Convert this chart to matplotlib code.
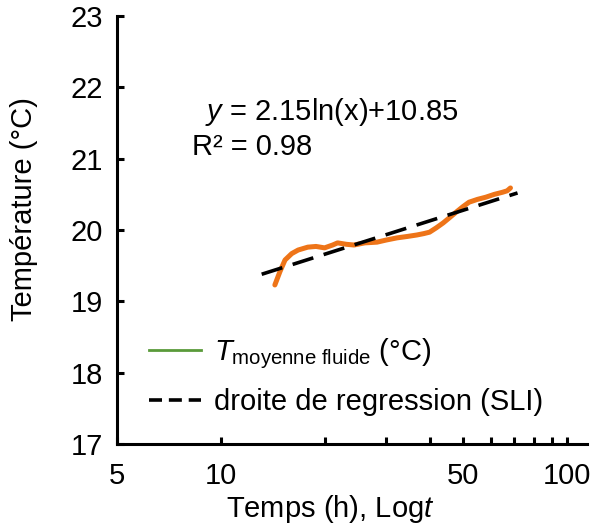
import numpy as np
import matplotlib
matplotlib.use("Agg")
import matplotlib.pyplot as plt
from matplotlib.lines import Line2D

plt.rcParams['font.family'] = 'Liberation Sans'
plt.rcParams['mathtext.fontset'] = 'custom'
plt.rcParams['mathtext.rm'] = 'Liberation Sans'
plt.rcParams['mathtext.it'] = 'Liberation Sans:italic'

# --- data ---
time_h = [14.3, 14.8, 15.3, 16.0, 16.7, 17.8, 18.8, 19.9, 21.0, 21.7, 23.0, 24.2,
          26.0, 28.2, 30.0, 32.2, 34.5, 36.7, 38.5, 40.0, 41.8, 43.8, 45.6,
          47.7, 50.0, 52.0, 55.0, 58.1, 61.5, 65.0, 67.0, 68.5]
temp_c = [19.23, 19.42, 19.58, 19.67, 19.72, 19.76, 19.77, 19.75, 19.79, 19.82,
          19.80, 19.79, 19.82, 19.83, 19.86, 19.89, 19.91, 19.93, 19.95, 19.97,
          20.03, 20.10, 20.17, 20.25, 20.33, 20.39, 20.43, 20.46, 20.50, 20.53,
          20.55, 20.59]

fit_t = [13.1, 71.8]
fit_T = [19.38, 20.52]

x_major = [5, 10, 50, 100]
x_minor = [20, 30, 40, 60, 70, 80, 90]
y_ticks = [17, 18, 19, 20, 21, 22, 23]

fs = 21

fig = plt.figure(figsize=(5.93, 5.27), dpi=100)
ax = fig.add_axes([0.197, 0.1575, 0.793, 0.812])

ax.plot(time_h, temp_c, color='#ee7418', lw=3.6, solid_capstyle='round',
        solid_joinstyle='round')
ax.plot(fit_t, fit_T, color='black', lw=2.6, dashes=(6, 3))

ax.set_xscale('log')
ax.set_xlim(5, 114)
ax.set_ylim(17, 23)
ax.set_xticks(x_major)
ax.set_xticklabels([str(v) for v in x_major])
ax.set_xticks(x_minor, minor=True)
ax.xaxis.set_minor_formatter(plt.NullFormatter())
ax.set_yticks(y_ticks)

for s in ['top', 'right']:
    ax.spines[s].set_visible(False)
for s in ['left', 'bottom']:
    ax.spines[s].set_linewidth(2.2)

ax.tick_params(which='both', direction='in', length=5, width=2.2,
               labelsize=fs, colors='black')
ax.tick_params(axis='x', pad=13)
ax.tick_params(axis='y', pad=10)

ax.set_xlabel('Temps (h), Log$t$', fontsize=fs)
ax.xaxis.set_label_coords(0.453, -0.114)
ax.set_ylabel('Température (°C)', fontsize=fs)
ax.yaxis.set_label_coords(-0.168, 0.549)

ax.text(0.187, 0.776, '$y$ = 2.15ln(x)+10.85', transform=ax.transAxes,
        fontsize=fs, va='center', ha='left')
ax.text(0.160, 0.694, 'R² = 0.98', transform=ax.transAxes,
        fontsize=fs, va='center', ha='left')

handles = [Line2D([], [], color='#5a9a3a', lw=2),
           Line2D([], [], color='black', lw=2.6, dashes=(3.6, 1.9))]
labels = [r'$T_{\rm moyenne\ fluide}$ (°C)', 'droite de regression (SLI)']
ax.legend(handles, labels, loc='upper left', bbox_to_anchor=(0.068, 0.252),
          frameon=False, fontsize=fs, borderpad=0, borderaxespad=0,
          handlelength=1.8, handletextpad=0.45, labelspacing=0.6)

fig.savefig('out.png', dpi=100)
